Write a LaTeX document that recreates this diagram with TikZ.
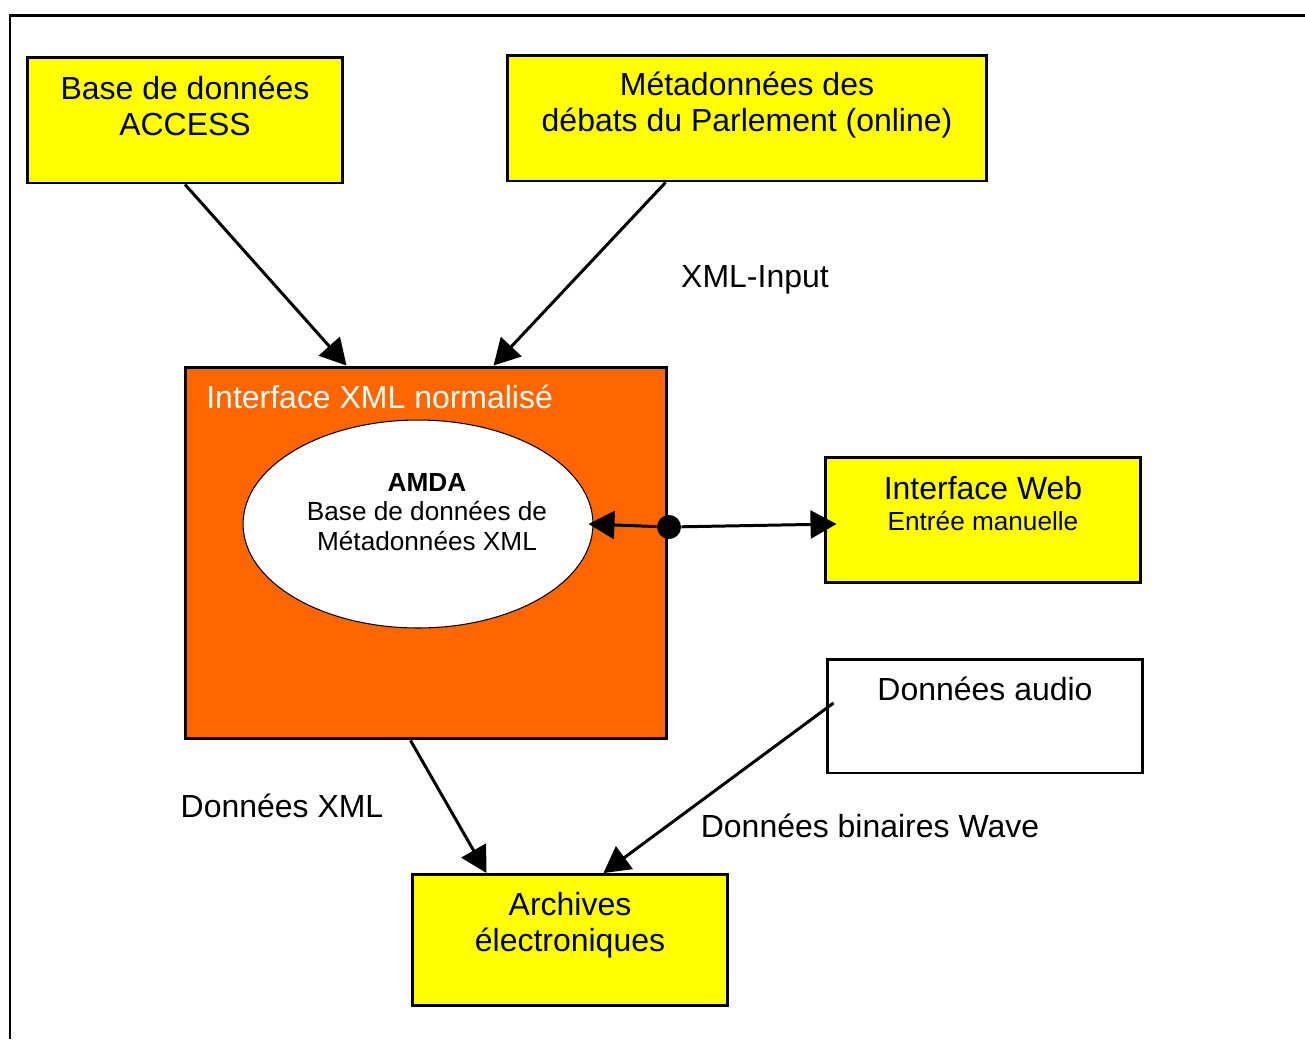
\documentclass[tikz,border=0pt]{standalone}
\usepackage{fontspec}
\setmainfont{Liberation Sans}
\usepackage{xcolor}
\usepackage{tikz}
\usetikzlibrary{arrows.meta,positioning,shapes.geometric}
\definecolor{jaune}{RGB}{255,255,0}
\definecolor{orangevif}{RGB}{255,102,0}
\newcommand{\grandf}{\fontsize{18.2}{20.8}\selectfont}
\newcommand{\petitf}{\fontsize{14.9}{17}\selectfont}

\begin{document}
\begin{tikzpicture}[
  x=0.02cm, y=-0.02cm,
  font=\grandf,
  cadre/.style={line width=1.7pt},
  jbox/.style={rectangle,draw=black,line width=1.7pt,fill=jaune,minimum width=6.32cm,minimum height=2.52cm},
  obox/.style={rectangle,draw=black,line width=1.7pt,fill=orangevif,minimum width=9.64cm,minimum height=7.44cm},
  wbox/.style={rectangle,draw=black,line width=1.7pt,fill=white,minimum width=6.32cm,minimum height=2.28cm},
  base/.style={ellipse,draw=black,line width=0.6pt,fill=white,inner sep=0pt,minimum width=7cm,minimum height=4.16cm},
  txt/.style={align=center,inner sep=0pt},
  point/.style={circle,fill=black,inner sep=0pt,minimum size=0.48cm},
  arr/.style={-{Triangle[length=0.52cm,width=0.56cm]},line width=1.7pt}
]
\useasboundingbox (0,0) rectangle (1305,1039);
\draw[cadre] (10,1039) -- (10,15) -- (1310,15);

% boites
\node[jbox] (acc) at (185,120) {};
\node[txt] (acct) at (185,106) {Base de données\\ACCESS};
\node[jbox,minimum width=9.6cm] (meta) at (747,118) {};
\node[txt] (metat) at (747,105) {Métadonnées des\\débats du Parlement (online)};
\node[obox] (xi) at (426,553) {};
\node[txt,anchor=west,text=white] (xit) at (206,397) {Interface XML normalisé};
\node[base] (amda) at (418,524) {};
\node[txt,font=\petitf] (amdat) at (427,512) {\textbf{AMDA}\\Base de données de\\Métadonnées XML};
\node[jbox,minimum height=2.5cm] (web) at (983,520) {};
\node[txt] (webt) at (983,488) {Interface Web};
\node[txt,font=\petitf] (webs) at (983,521) {Entrée manuelle};
\node[wbox] (aud) at (985,716) {};
\node[txt] (audt) at (985,689) {Données audio};
\node[jbox,minimum height=2.62cm] (arch) at (570,940) {};
\node[txt] (archt) at (570,925) {Archives\\électroniques};
\node[point] (jn) at (669,527) {};

% fleches
\draw[arr] (acc.south) -- ([xshift=3.26cm]xi.north west);
\draw[arr] ([xshift=3.2cm]meta.south west) -- ([xshift=6.2cm]xi.north west);
\draw[arr] (jn) -- ([xshift=-0.1cm]amda.east);
\draw[arr] (jn) -- ([xshift=0.26cm,yshift=-0.08cm]web.west);
\draw[arr] ([xshift=4.54cm]xi.south west) -- ([xshift=1.52cm]arch.north west);
\draw[arr] ([xshift=0.16cm,yshift=0.26cm]aud.west) -- ([xshift=3.86cm]arch.north west);

% etiquettes
\node[txt] (lxi) at (755,280) {XML-Input};
\node[txt] (lxml) at (282,806) {Données XML};
\node[txt] (lwav) at (870,826) {Données binaires Wave};
\end{tikzpicture}
\end{document}
